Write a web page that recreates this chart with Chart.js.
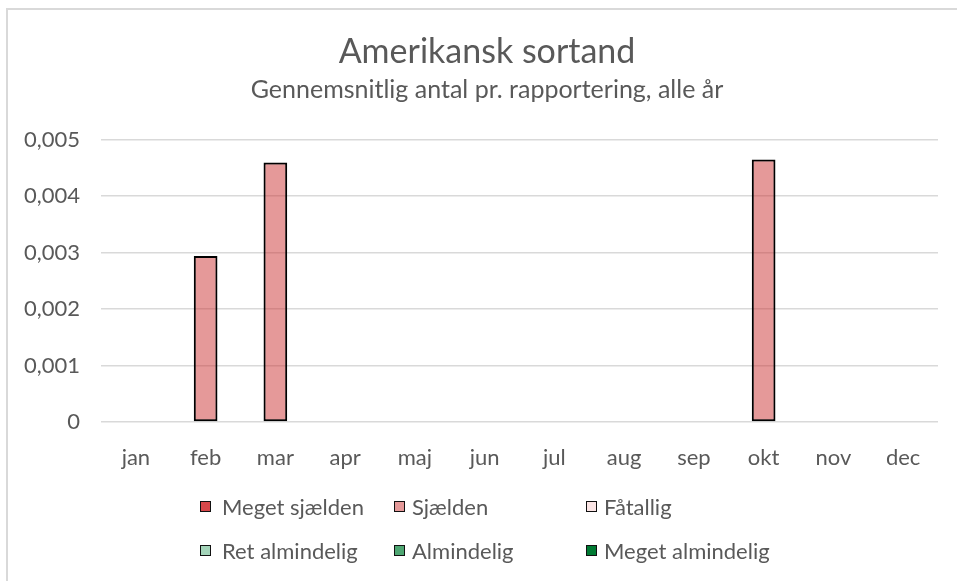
<!DOCTYPE html>
<html>

<head>
    <meta charset="utf-8">
    <title>Amerikansk sortand</title>
    <script src="https://cdn.jsdelivr.net/npm/chart.js@4.4.1/dist/chart.umd.min.js"></script>
    <style>
        body { margin: 0; background: #fff; overflow: hidden; }
        #frame { position: absolute; left: 6px; top: 8px; width: 980px; height: 600px; border: 2px solid #d9d9d9; }
        #chart { position: absolute; left: 0; top: 0; }
        #legend { position: absolute; left: 0; top: 0; font-family: Lato, sans-serif; font-size: 22px; color: #595959; }
        .item { position: absolute; height: 26px; line-height: 26px; white-space: nowrap; }
        .box { position: absolute; top: 7px; width: 9px; height: 9px; border: 1.5px solid #111; }
    </style>
</head>

<body>
    <div id="frame"></div>
    <canvas id="chart" width="957" height="581"></canvas>
    <div id="legend"></div>
    <script>
        const months = ['jan', 'feb', 'mar', 'apr', 'maj', 'jun', 'jul', 'aug', 'sep', 'okt', 'nov', 'dec']

        // gennemsnitlig antal pr. rapportering
        const megetSjaelden = [null, null, null, null, null, null, null, null, null, null, null, null]
        const sjaelden = [null, 0.00294, 0.0046, null, null, null, null, null, null, 0.00465, null, null]
        const faatallig = [null, null, null, null, null, null, null, null, null, null, null, null]
        const retAlmindelig = [null, null, null, null, null, null, null, null, null, null, null, null]
        const almindelig = [null, null, null, null, null, null, null, null, null, null, null, null]
        const megetAlmindelig = [null, null, null, null, null, null, null, null, null, null, null, null]

        const seriesNames = ['Meget sjælden', 'Sjælden', 'Fåtallig', 'Ret almindelig', 'Almindelig', 'Meget almindelig']
        const seriesData = [megetSjaelden, sjaelden, faatallig, retAlmindelig, almindelig, megetAlmindelig]
        const seriesColors = ['#d6474a', 'rgba(204, 51, 51, 0.5)', '#fbe5e5', '#a3d4b9', '#4ea672', '#007a33']

        const yTicks = [0, 0.001, 0.002, 0.003, 0.004, 0.005]

        const grey = '#595959'

        const datasets = seriesNames.map((name, i) => {
            return {
                label: name,
                data: seriesData[i],
                backgroundColor: seriesColors[i],
                borderColor: '#000',
                borderWidth: 2,
                borderSkipped: false,
                barPercentage: 0.34,
                categoryPercentage: 1
            }
        })

        Chart.defaults.font.family = 'Lato, sans-serif'
        Chart.defaults.color = grey

        const chart = new Chart(document.getElementById('chart'), {
            type: 'bar',
            data: { labels: months, datasets },
            options: {
                responsive: false,
                animation: false,
                layout: { padding: { left: 36, right: 19, top: 0, bottom: 109 } },
                plugins: {
                    legend: { display: false },
                    tooltip: { enabled: false },
                    title: {
                        display: true,
                        text: 'Amerikansk sortand',
                        font: { size: 34, weight: 'normal' },
                        color: grey,
                        padding: { top: 32, bottom: 1 }
                    },
                    subtitle: {
                        display: true,
                        text: 'Gennemsnitlig antal pr. rapportering, alle år',
                        font: { size: 25 },
                        color: grey,
                        padding: { top: 1, bottom: 35 }
                    }
                },
                scales: {
                    x: {
                        stacked: true,
                        afterFit: (axis) => { axis.height = 50 },
                        grid: { display: false },
                        border: { display: false },
                        ticks: { font: { size: 22 }, color: grey, padding: 15 }
                    },
                    y: {
                        stacked: true,
                        min: 0,
                        max: 0.005,
                        afterFit: (axis) => { axis.width = 65 },
                        // let the tick labels run left of the axis box
                        afterUpdate: (axis) => { axis._computeLabelArea = () => undefined },
                        afterBuildTicks: (axis) => { axis.ticks = yTicks.map((v) => ({ value: v })) },
                        grid: { color: '#d9d9d9', lineWidth: 1.5, drawTicks: false },
                        border: { display: false },
                        ticks: {
                            font: { size: 22 },
                            color: grey,
                            padding: 21,
                            callback: (v) => v === 0 ? '0' : v.toFixed(3).replace('.', ',')
                        }
                    }
                }
            }
        })

        // legend in two rows of three, like the spreadsheet
        const legendPos = [
            [200, 507], [394, 507], [586, 507],
            [200, 551], [394, 551], [586, 551]
        ]
        const legend = document.getElementById('legend')
        chart.data.datasets.forEach((ds, i) => {
            const item = document.createElement('div')
            item.className = 'item'
            item.style.left = legendPos[i][0] + 'px'
            item.style.top = (legendPos[i][1] - 13) + 'px'
            const box = document.createElement('span')
            box.className = 'box'
            box.style.background = ds.backgroundColor
            item.appendChild(box)
            const text = document.createElement('span')
            text.textContent = ds.label
            text.style.marginLeft = (i % 3 === 0 ? 22 : 18) + 'px'
            item.appendChild(text)
            legend.appendChild(item)
        })
    </script>
</body>

</html>
